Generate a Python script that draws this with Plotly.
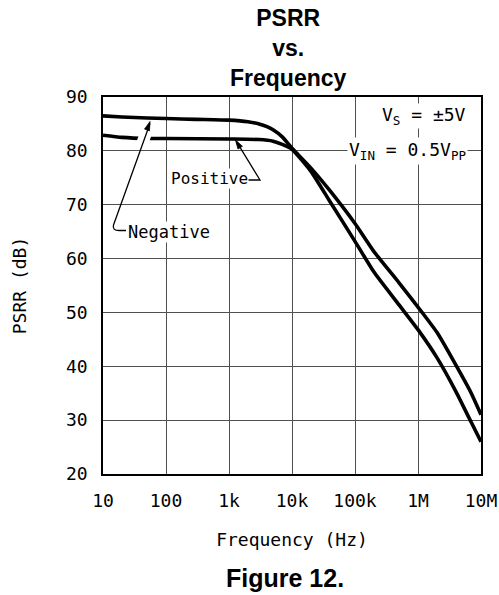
import math
import plotly.graph_objects as go

# ---- data ----
freq_negative = [10, 20, 50, 100, 300, 1000, 2000, 3000, 4000, 5000, 7000, 10000,
                 20000, 40000, 100000, 200000, 500000, 1000000,
                 2000000, 4000000, 7000000, 10000000]
psrr_negative = [86.5, 86.3, 86.1, 86.0, 85.85, 85.7, 85.4, 85.0, 84.5, 83.9, 82.6, 80.5,
                 76.8, 72.6, 66.5, 61.3, 55.5, 51.0,
                 46.3, 40.2, 35.0, 31.0]

freq_positive = [10, 20, 50, 100, 1000, 3000, 5000, 7000, 10000,
                 20000, 40000, 100000, 200000, 500000, 1000000,
                 2000000, 4000000, 7000000, 10000000]
psrr_positive = [82.9, 82.5, 82.3, 82.3, 82.2, 82.1, 81.8, 81.2, 80.3,
                 76.2, 70.6, 63.2, 57.5, 51.4, 46.8,
                 41.6, 35.3, 29.6, 26.0]

x_tick_vals = [10, 100, 1000, 10000, 100000, 1000000, 10000000]
x_tick_text = ["10", "100", "1k", "10k", "100k", "1M", "10M"]
y_tick_vals = [20, 30, 40, 50, 60, 70, 80, 90]

# ---- layout constants ----
W, H = 499, 595
L, R, T, B = 103, 18, 97, 121
PW, PH = W - L - R, H - T - B


def px(x):
    return (x - L) / PW


def py(y):
    return (H - B - y) / PH


def arrow_head(tip, tail, length=9.0, half=2.6):
    dx, dy = tip[0] - tail[0], tip[1] - tail[1]
    n = math.hypot(dx, dy)
    ux, uy = dx / n, dy / n
    bx, by = tip[0] - length * ux, tip[1] - length * uy
    nx, ny = -uy, ux
    p1 = (bx + half * nx, by + half * ny)
    p2 = (bx - half * nx, by - half * ny)
    return (f"M {px(tip[0]):.4f},{py(tip[1]):.4f} L {px(p1[0]):.4f},{py(p1[1]):.4f} "
            f"L {px(p2[0]):.4f},{py(p2[1]):.4f} Z")


MONO = "DejaVu Sans Mono"
BOLD = "Liberation Sans, Arial, sans-serif"

fig = go.Figure()
fig.add_trace(go.Scatter(x=freq_negative, y=psrr_negative, mode="lines",
                         name="Negative", line=dict(color="black", width=3.6,
                                                    shape="spline", smoothing=0.5)))
fig.add_trace(go.Scatter(x=freq_positive, y=psrr_positive, mode="lines",
                         name="Positive", line=dict(color="black", width=3.6,
                                                    shape="spline", smoothing=0.5)))

neg_tip, neg_tail = (150, 121.5), (113.5, 225)
pos_tip, pos_tail = (235.5, 140), (260, 180)

shapes = [
    # white gap in Positive curve where the Negative leader crosses
    dict(type="line", xref="paper", yref="paper",
         x0=px(146.6), y0=py(131), x1=px(141.6), y1=py(145.5),
         line=dict(color="white", width=12), layer="above"),
    # Negative leader (with elbow)
    dict(type="path", xref="paper", yref="paper",
         path=f"M {px(neg_tip[0]):.4f},{py(neg_tip[1] + 2):.4f} "
              f"L {px(neg_tail[0]):.4f},{py(neg_tail[1]):.4f} "
              f"Q {px(112):.4f},{py(230.5):.4f} {px(119):.4f},{py(230.5):.4f} "
              f"L {px(126):.4f},{py(230.5):.4f}",
         line=dict(color="black", width=1.3), layer="above"),
    dict(type="path", xref="paper", yref="paper", path=arrow_head(neg_tip, neg_tail),
         fillcolor="black", line=dict(color="black", width=0.8), layer="above"),
    # Positive leader
    dict(type="path", xref="paper", yref="paper",
         path=f"M {px(246):.4f},{py(180):.4f} L {px(pos_tail[0]):.4f},{py(pos_tail[1]):.4f} "
              f"L {px(pos_tip[0] + 1):.4f},{py(pos_tip[1] + 1.6):.4f}",
         line=dict(color="black", width=1.3), layer="above"),
    dict(type="path", xref="paper", yref="paper", path=arrow_head(pos_tip, pos_tail),
         fillcolor="black", line=dict(color="black", width=0.8), layer="above"),
]

annotations = [
    # title (three lines, one text block)
    dict(text="<b>PSRR<br>vs.<br>Frequency</b>", x=px(288), y=py(48), xref="paper",
         yref="paper", showarrow=False, xanchor="center", yanchor="middle",
         align="center", font=dict(family=BOLD, size=23, color="black")),
    dict(text="<b>Figure 12.</b>", x=px(285), y=py(578), xref="paper", yref="paper",
         showarrow=False, xanchor="center", yanchor="middle",
         font=dict(family=BOLD, size=25, color="black")),
    # conditions
    dict(text="V<sub>S</sub> = ±5V", x=px(467), y=py(116), xref="paper", yref="paper",
         showarrow=False, xanchor="right", yanchor="middle", bgcolor="white",
         borderpad=0, font=dict(family=MONO, size=18, color="black")),
    dict(text="V<sub>IN</sub> = 0.5V<sub>PP</sub>", x=px(468), y=py(151),
         xref="paper", yref="paper", showarrow=False, xanchor="right",
         yanchor="middle", bgcolor="white", borderpad=1,
         font=dict(family=MONO, size=18, color="black")),
    # labels
    dict(text="Positive", x=px(170), y=py(178), xref="paper", yref="paper",
         showarrow=False, xanchor="left", yanchor="middle", bgcolor="white",
         borderpad=0, font=dict(family=MONO, size=16, color="black")),
    dict(text="Negative", x=px(127), y=py(232), xref="paper", yref="paper",
         showarrow=False, xanchor="left", yanchor="middle", bgcolor="white",
         borderpad=0, font=dict(family=MONO, size=17, color="black")),
]

fig.update_layout(
    width=W, height=H,
    margin=dict(l=L, r=R, t=T, b=B, autoexpand=False),
    paper_bgcolor="white", plot_bgcolor="white",
    showlegend=False,
    shapes=shapes, annotations=annotations,
    font=dict(family=MONO, size=18, color="black"),
)
fig.update_xaxes(type="log", range=[1, 7], tickvals=x_tick_vals, ticktext=x_tick_text,
                 showgrid=True, gridcolor="#505050", gridwidth=1,
                 showline=True, linecolor="black", linewidth=1.5, mirror=True,
                 ticks="", ticklabelstandoff=10, zeroline=False,
                 tickfont=dict(family=MONO, size=18, color="black"),
                 title=dict(text="Frequency (Hz)", standoff=23,
                            font=dict(family=MONO, size=18, color="black")))
fig.update_yaxes(range=[20, 90], tickvals=y_tick_vals,
                 showgrid=True, gridcolor="#505050", gridwidth=1,
                 showline=True, linecolor="black", linewidth=1.5, mirror=True,
                 ticks="", ticklabelstandoff=10, zeroline=False,
                 tickfont=dict(family=MONO, size=18, color="black"),
                 title=dict(text="PSRR (dB)", standoff=35,
                            font=dict(family=MONO, size=18, color="black")))

fig.write_html("out.html")
